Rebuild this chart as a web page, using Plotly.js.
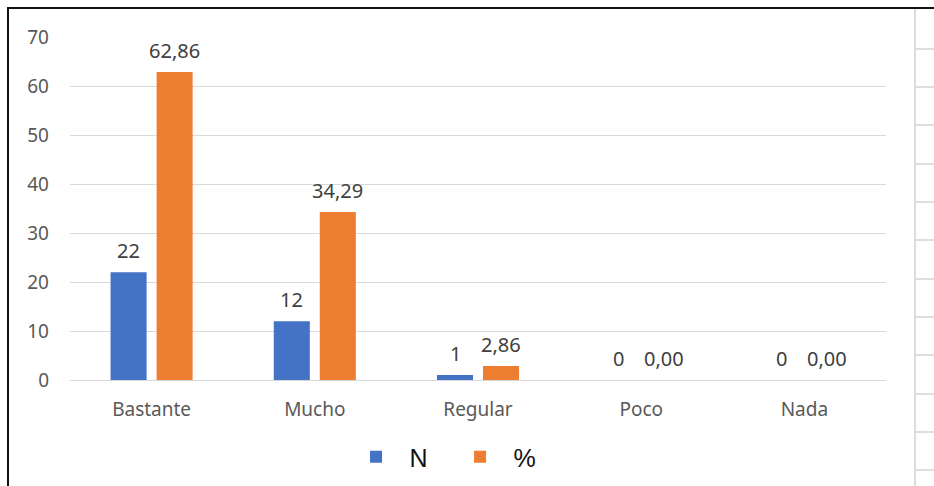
<!DOCTYPE html>
<html>
<head>
<meta charset="utf-8">
<script src="https://cdn.plot.ly/plotly-3.0.1.min.js"></script>
<style>
  html, body { margin: 0; padding: 0; background: #ffffff; }
  #wrap { position: relative; width: 934px; height: 486px; overflow: hidden; }
  #chart { position: absolute; left: 0; top: 0; width: 934px; height: 486px; }
  .rule { position: absolute; z-index: 5; }
</style>
</head>
<body>
<div id="wrap">
  <div id="chart"></div>
</div>
<script>
// Survey responses: count (N) and share (%) per answer
const categories = ['Bastante', 'Mucho', 'Regular', 'Poco', 'Nada'];
const nValues = [22, 12, 1, 0, 0];
const pctValues = [62.86, 34.29, 2.86, 0, 0];
const seriesNames = ['N', '%'];
const yTicks = [0, 10, 20, 30, 40, 50, 60, 70];

const BLUE = '#4472C4';
const ORANGE = '#ED7D31';
const FONT = 'Noto Sans, Open Sans, sans-serif';

// Spanish decimal format for the percentage labels
const fmtPct = v => v.toFixed(2).replace('.', ',');

const traces = [
  { type: 'bar', name: seriesNames[0], x: categories, y: nValues,
    marker: { color: BLUE }, hoverinfo: 'x+y' },
  { type: 'bar', name: seriesNames[1], x: categories, y: pctValues,
    marker: { color: ORANGE }, hoverinfo: 'x+y' }
];

// Value labels above each bar, offset to the bar's slot within the group
const annotations = [];
categories.forEach((c, i) => {
  annotations.push({ x: c, y: nValues[i], xref: 'x', yref: 'y', xshift: -23, yshift: 6,
    yanchor: 'bottom', showarrow: false, text: String(nValues[i]),
    font: { family: FONT, size: 20, color: '#404040' } });
  annotations.push({ x: c, y: pctValues[i], xref: 'x', yref: 'y', xshift: 23, yshift: 6,
    yanchor: 'bottom', showarrow: false, text: fmtPct(pctValues[i]),
    font: { family: FONT, size: 20, color: '#404040' } });
});

const layout = {
  width: 934, height: 486,
  margin: { l: 70, r: 48, t: 37, b: 106, autoexpand: false },
  paper_bgcolor: 'rgba(0,0,0,0)',
  plot_bgcolor: '#ffffff',
  barmode: 'group',
  bargap: 0.436,
  bargroupgap: 0.217,
  font: { family: FONT, color: '#595959' },
  xaxis: {
    type: 'category',
    showgrid: false, showline: false, zeroline: false,
    ticks: '',
    ticklabelstandoff: 16,
    tickfont: { family: FONT, size: 19, color: '#595959' },
    automargin: false,
    fixedrange: true
  },
  yaxis: {
    range: [0, 70],
    tickvals: yTicks,
    ticktext: yTicks.map(String),
    showgrid: true, gridcolor: '#d9d9d9', gridwidth: 1,
    zeroline: true, zerolinecolor: '#d9d9d9', zerolinewidth: 1,
    showline: false, ticks: '',
    ticklabelstandoff: 20,
    tickfont: { family: FONT, size: 19, color: '#595959' },
    automargin: false,
    fixedrange: true
  },
  showlegend: true,
  legend: {
    orientation: 'h',
    x: 0.334, xanchor: 'left',
    y: -0.2245, yanchor: 'middle',
    font: { family: 'Liberation Sans, Arial, sans-serif', size: 25, color: '#111111' },
    bgcolor: 'rgba(0,0,0,0)',
    itemwidth: 57,
    entrywidth: 32, entrywidthmode: 'pixels',
    traceorder: 'normal'
  },
  annotations: annotations
};

Plotly.newPlot('chart', traces, layout, { displayModeBar: false, staticPlot: true });

// Surrounding sheet frame: black outline on the left and top, grey cell edge on the right
const wrap = document.getElementById('wrap');
function rule(left, top, w, h, color) {
  const d = document.createElement('div');
  d.className = 'rule';
  d.style.left = left + 'px'; d.style.top = top + 'px';
  d.style.width = w + 'px'; d.style.height = h + 'px';
  d.style.background = color;
  wrap.appendChild(d);
}
rule(7, 7, 927, 2, '#111111');
rule(7, 7, 2, 479, '#111111');
rule(914, 9, 2, 477, '#dcdcdc');
for (let k = 0; k < 12; k++) {
  rule(916, Math.round(47.5 + k * 38.35), 18, 2, '#dedede');
}
</script>
</body>
</html>
